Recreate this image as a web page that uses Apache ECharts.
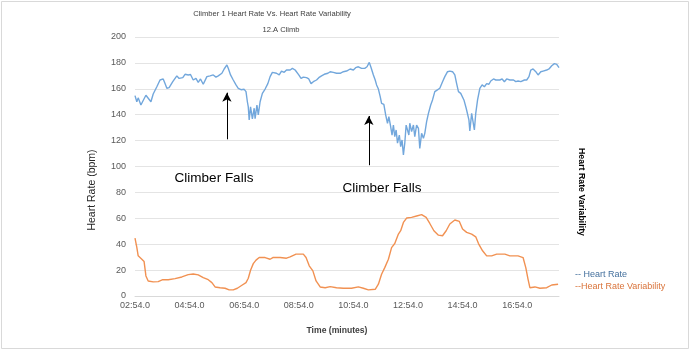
<!DOCTYPE html>
<html>
<head>
<meta charset="utf-8">
<script src="https://cdn.jsdelivr.net/npm/echarts@6/dist/echarts.min.js"></script>
<style>html,body{margin:0;padding:0;background:#fff}#c{width:693px;height:353px}</style>
</head>
<body>
<div id="c"></div>
<script>
// time values are seconds elapsed since 02:54.0
var START_SECONDS = 174;
var yTicks = [0, 20, 40, 60, 80, 100, 120, 140, 160, 180, 200];

var hrTime = [0,4,7,13,18,24,27,35,40,48,55,62,66,70,75,83,92,97,105,110,117,122,128,134,139,144,150,158,165,172,178,183,191,196,202,205,210,216,222,227,233,240,244,247,249,251,254,258,262,264,268,271,275,280,286,292,297,302,306,311,317,322,328,333,341,346,352,355,360,365,370,377,382,387,392,399,404,410,416,424,429,436,443,451,458,465,473,480,485,491,498,505,510,515,519,524,528,531,535,539,542,547,551,555,558,562,565,568,571,574,577,581,584,587,590,593,596,599,602,604,608,612,615,619,623,626,630,634,637,641,645,650,654,659,664,670,676,681,687,692,698,703,707,711,716,720,723,728,731,734,736,740,743,746,749,753,758,763,768,773,778,782,788,793,797,802,807,812,817,824,832,837,842,848,856,861,866,870,875,881,886,892,897,905,910,916,922,927,932];
var hrValue = [154.7,150,153,147.5,151,155,156,150,156,161.6,166.8,167.6,164,160.4,160.9,165.5,170,168,168.6,171.2,170.7,171,166.8,168,165,167.6,163.5,169.4,170,170.7,169,170,172,175.3,178.4,175.8,170.7,166.8,163,160.4,159.3,159.6,157.8,150,146,136,146,136.7,145,137,147.5,139.8,150,156.5,159.8,164,169.4,172.7,171.2,172,170.7,173.7,172.7,174.5,174.5,175.8,174.5,175.3,170.7,168,169,168.6,167.6,164,165.5,166.8,168.6,170,171.2,172,173.2,172.7,172,172,173.2,173.7,175.3,174.5,176.3,177,175.8,175.8,177,180.4,176.3,170.7,166.8,163,159.8,154,148.8,148,139.8,133.4,138.5,130.7,124.3,132,123,128.2,118,124.3,115.3,120.5,108.9,118,132,130.7,124.3,133.4,126.9,132,123,132,129.5,114,125.6,121.8,125.6,134.6,141,147.5,151.4,157.8,159,160.4,165.5,169.4,173.2,173.7,173.2,170.7,164,157.8,156.5,155,151.4,145,143.6,136,127.4,141,142.3,128.2,141,151.4,160.4,163,161.6,164,163.5,166,167.6,166.8,168,166.8,167.6,165.5,167.6,166.8,166.8,165.5,166,165.5,166.8,166.8,169.4,174.5,175.3,173.2,170.7,173.2,173.7,174.5,175.3,177.8,179.4,178.9,176.3];

var hrvTime = [0,4,7,15,20,24,29,40,51,61,73,88,103,117,128,139,150,161,169,176,187,198,207,216,225,235,244,249,254,260,266,273,286,297,303,319,333,341,354,370,376,383,391,398,407,418,429,443,458,476,491,502,513,528,535,542,549,557,564,571,579,584,590,597,608,619,630,640,648,657,667,676,684,692,703,713,720,729,740,749,755,764,773,784,795,813,824,842,853,859,864,868,879,890,905,916,930];
var hrvValue = [44.7,37.5,31,28.4,26.6,15.5,11.6,10.9,11.1,12.6,12.6,13.4,14.7,16.5,17,16.3,14.2,12.6,10.3,7,6.4,6,4.7,4.7,6,8.3,10.3,13.7,19.9,25,27.7,29.7,29.7,28.4,29.7,29.7,29.2,30.2,32.3,32.3,29.7,23.3,19.4,11.6,7,6.4,7.2,6.4,6,6,7,6,4.7,5.2,9.1,16.8,21.9,28.4,37.4,40.5,47.8,50.4,56.8,60.2,60.7,61.8,62.8,60.7,56,50.4,47,46.5,50.4,55.6,58.7,57.6,51.7,49.1,47.8,45.7,40.5,34.9,31,31,32.3,32.3,31,31,29.7,21.9,12.9,6.4,7,6,6.4,8.5,9.1];

// annotation arrows (time seconds, heart-rate units)
var arrows = [
  {x: 202, from: 121, to: 157},
  {x: 514, from: 101, to: 139}
];

function pairs(t, v) { return t.map(function (x, i) { return [x, v[i]]; }); }
function fmtTime(v) {
  var s = START_SECONDS + v;
  var m = Math.floor(s / 60), ss = s % 60;
  return (m < 10 ? '0' : '') + m + ':' + (ss < 10 ? '0' : '') + ss + '.0';
}

var FONT = '"Liberation Sans", Arial, sans-serif';
var chart = echarts.init(document.getElementById('c'), null, {renderer: 'canvas'});
chart.setOption({
  animation: false,
  backgroundColor: '#ffffff',
  grid: {left: 135, right: 134, top: 37, bottom: 57, containLabel: false},
  xAxis: {
    type: 'value', min: 0, max: 932, interval: 120,
    axisLine: {show: true, lineStyle: {color: '#d9d9d9', width: 1}},
    axisTick: {show: false},
    splitLine: {show: false},
    axisLabel: {formatter: fmtTime, color: '#595959', fontSize: 9, fontFamily: FONT, margin: 5, showMaxLabel: false}
  },
  yAxis: [{
    type: 'value', min: yTicks[0], max: yTicks[yTicks.length - 1], interval: 20,
    axisLine: {show: false}, axisTick: {show: false},
    splitLine: {lineStyle: {color: '#e4e4e4', width: 1}},
    axisLabel: {color: '#595959', fontSize: 9, fontFamily: FONT, margin: 9}
  }],
  series: [{
    name: 'Heart Rate', type: 'line', data: pairs(hrTime, hrValue),
    showSymbol: false, lineStyle: {color: '#72a7dc', width: 1.4}, itemStyle: {color: '#72a7dc'},
    markLine: {
      silent: true, symbol: ['none', 'arrow'], symbolSize: [7, 9],
      label: {show: false},
      lineStyle: {color: '#000', width: 1, type: 'solid'},
      data: arrows.map(function (a) { return [{coord: [a.x, a.from]}, {coord: [a.x, a.to]}]; })
    }
  }, {
    name: 'Heart Rate Variability', type: 'line', data: pairs(hrvTime, hrvValue),
    showSymbol: false, lineStyle: {color: '#f19152', width: 1.4}, itemStyle: {color: '#f19152'}
  }],
  graphic: [
    {type: 'rect', shape: {x: 1.5, y: 1.5, width: 687, height: 347}, style: {fill: 'none', stroke: '#d9d9d9', lineWidth: 1}, silent: true},
    {type: 'text', x: 272, y: 14, style: {text: 'Climber 1 Heart Rate Vs. Heart Rate Variability', fill: '#404040', font: '7.6px ' + FONT, textAlign: 'center', textVerticalAlign: 'middle'}},
    {type: 'text', x: 281, y: 30, style: {text: '12.A Climb', fill: '#404040', font: '7.6px ' + FONT, textAlign: 'center', textVerticalAlign: 'middle'}},
    {type: 'text', x: 92, y: 190, rotation: Math.PI / 2, style: {text: 'Heart Rate (bpm)', fill: '#262626', font: '10.5px ' + FONT, textAlign: 'center', textVerticalAlign: 'middle'}},
    {type: 'text', x: 581, y: 192, rotation: -Math.PI / 2, style: {text: 'Heart Rate Variability', fill: '#000000', font: 'bold 8.8px ' + FONT, textAlign: 'center', textVerticalAlign: 'middle'}},
    {type: 'text', x: 337, y: 331, style: {text: 'Time (minutes)', fill: '#404040', font: 'bold 8.6px ' + FONT, textAlign: 'center', textVerticalAlign: 'middle'}},
    {type: 'text', x: 575, y: 275, style: {text: '-- Heart Rate', fill: '#44709d', font: '9px ' + FONT, textAlign: 'left', textVerticalAlign: 'middle'}},
    {type: 'text', x: 575, y: 287, style: {text: '--Heart Rate Variability', fill: '#d9733a', font: '9px ' + FONT, textAlign: 'left', textVerticalAlign: 'middle'}},
    {type: 'text', x: 214, y: 178, style: {text: 'Climber Falls', fill: '#000000', font: '13.5px ' + FONT, textAlign: 'center', textVerticalAlign: 'middle'}},
    {type: 'text', x: 382, y: 188, style: {text: 'Climber Falls', fill: '#000000', font: '13.5px ' + FONT, textAlign: 'center', textVerticalAlign: 'middle'}}
  ]
});
</script>
</body>
</html>
